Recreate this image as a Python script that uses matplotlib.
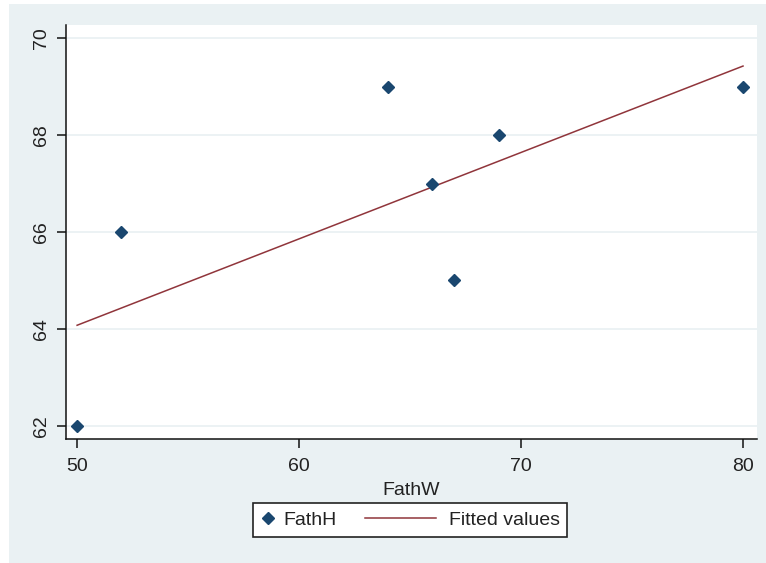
import numpy as np
import matplotlib
matplotlib.use("Agg")
import matplotlib.pyplot as plt
from matplotlib.lines import Line2D
from matplotlib.patches import Rectangle
from matplotlib.legend_handler import HandlerLine2D

plt.rcParams['font.family'] = ['Liberation Sans', 'DejaVu Sans']

# father's weight vs father's height
fath_w = [50, 52, 64, 66, 67, 69, 80]
fath_h = [62, 66, 69, 67, 65, 68, 69]
x_ticks = [50, 60, 70, 80]
y_ticks = [62, 64, 66, 68, 70]

navy = '#1a476f'
maroon = '#90353b'
bg = '#eaf1f3'
txt = '#222222'

# least squares fit
slope, icept = np.polyfit(fath_w, fath_h, 1)
fit_x = np.array([min(fath_w), max(fath_w)])
fit_y = icept + slope * fit_x


class LongLine(HandlerLine2D):
    """legend line that reaches back into the column gap"""
    def create_artists(self, legend, orig_handle, xdescent, ydescent,
                       width, height, fontsize, trans):
        y = (height - ydescent) / 2.
        line = Line2D([-3.1 * fontsize, width - 0.25 * fontsize], [y, y])
        self.update_prop(line, orig_handle, legend)
        line.set_marker('None')
        line.set_transform(trans)
        return [line]


fig = plt.figure(figsize=(7.66, 5.63), dpi=100)
fig.patch.set_facecolor('white')
fig.patches.append(Rectangle((9 / 766, 0), 1, 1 - 4 / 563, transform=fig.transFigure,
                             facecolor=bg, edgecolor='none', zorder=-10))

ax = fig.add_axes([66 / 766, 1 - 439 / 563, (757 - 66) / 766, (439 - 25) / 563])
ax.set_facecolor('white')

ax.set_xlim(49.5, 80.63)
ax.set_ylim(61.73, 70.27)
ax.set_xticks(x_ticks)
ax.set_yticks(y_ticks)

for yv in y_ticks:
    ax.axhline(yv, color=bg, lw=1.3, zorder=0)

pts, = ax.plot(fath_w, fath_h, linestyle='none', marker='D', ms=6.5,
               color=navy, label='FathH', zorder=3)
fit, = ax.plot(fit_x, fit_y, color=maroon, lw=1.1, label='Fitted values', zorder=2)

for s in ['top', 'right']:
    ax.spines[s].set_visible(False)
for s in ['left', 'bottom']:
    ax.spines[s].set_color('#111111')
    ax.spines[s].set_linewidth(1.1)

ax.tick_params(axis='both', labelsize=14, colors='#111111', labelcolor=txt,
               length=6.5, width=1.1)
ax.tick_params(axis='y', pad=5)
ax.tick_params(axis='x', pad=7)
for lab in ax.get_yticklabels():
    lab.set_rotation(90)
    lab.set_va('center')

ax.set_xlabel('FathW', fontsize=14, color=txt, labelpad=5)

leg = fig.legend(handles=[pts, fit], labels=['FathH', 'Fitted values'],
                 loc='center', bbox_to_anchor=(410 / 766, 1 - 520 / 563),
                 ncol=2, fontsize=14, numpoints=1, handlelength=0.8,
                 handletextpad=0.38, columnspacing=4.58, borderpad=0.4,
                 fancybox=False, framealpha=1, edgecolor='#222222',
                 handler_map={fit: LongLine()})
leg.get_frame().set_linewidth(1.2)
for t in leg.get_texts():
    t.set_color(txt)

fig.savefig('out.png', dpi=100, facecolor=fig.get_facecolor())
